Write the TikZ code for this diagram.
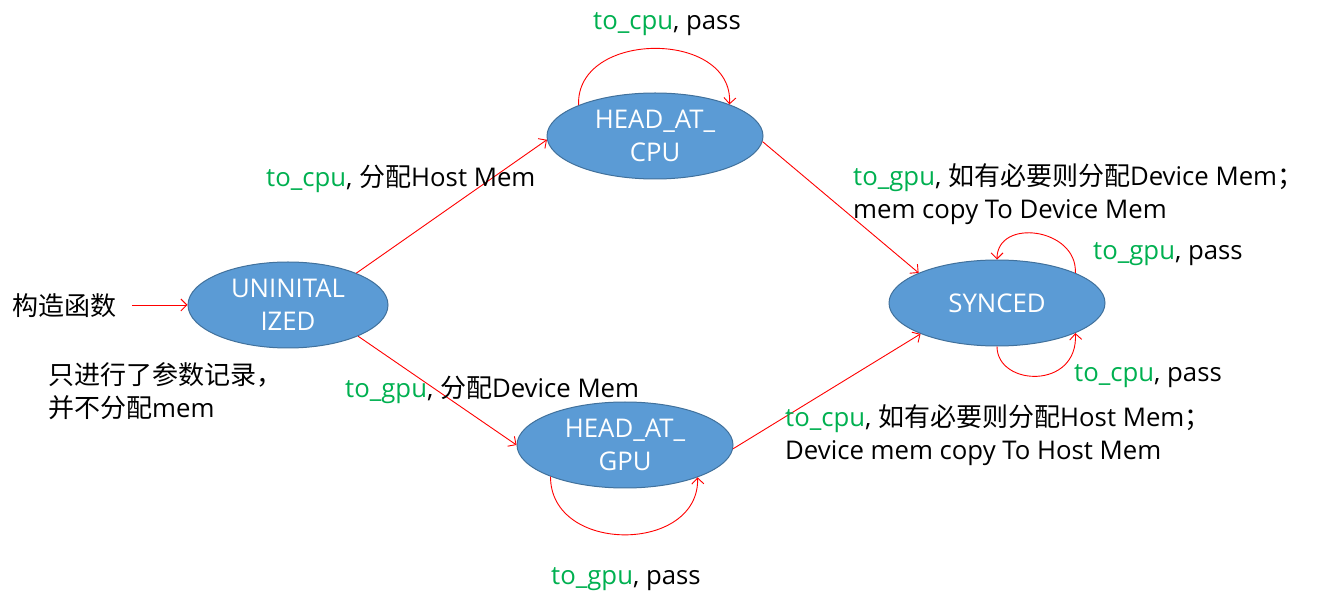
\documentclass[tikz,border=0pt]{standalone}
\usepackage{fontspec}
\setmainfont{Open Sans}[Scale=0.99]
\newfontfamily\cjk{Noto Sans CJK SC}
\usetikzlibrary{shapes.geometric,arrows.meta,calc}
\definecolor{tgreen}{HTML}{00B050}
\definecolor{sfill}{HTML}{5B9BD5}
\definecolor{sdraw}{HTML}{41719C}
\newcommand\zhtxt[1]{{\cjk #1}}
\newcommand\grn[1]{\textcolor{tgreen}{#1}}
\tikzset{
  state/.style={ellipse,fill=sfill,draw=sdraw,line width=1pt,text=white,
    minimum width=216pt,minimum height=86pt,inner sep=0pt,align=center,
    font=\fontsize{26}{33}\selectfont},
  lbl/.style={anchor=west,inner sep=0pt,align=left,text=black,
    font=\fontsize{26}{33}\selectfont},
  conn/.style={draw=red,line width=0.9pt,-{Straight Barb[length=6pt,width=12pt]}}
}
\begin{document}
\begin{tikzpicture}[x=1pt,y=1pt]
\useasboundingbox (0,0) rectangle (1328,600);
% states
\node[state,minimum width=200pt] (u) at (288,295) {UNINITAL\\IZED};
\node[state] (cpu) at (655,464) {HEAD\_AT\_\\CPU};
\node[state] (sync) at (997,297) {SYNCED};
\node[state] (gpu) at (625,155) {HEAD\_AT\_\\GPU};
% free end
\coordinate (ctor) at (132,295);
% connectors
\draw[conn] (ctor) -- (u.west);
\draw[conn] (u.25) -- (cpu.182);
\draw[conn] (cpu.-3) -- (sync.159);
\draw[conn] (u.-24) -- (gpu.180);
\draw[conn] (gpu.-2) -- (sync.202);
% loops
\draw[conn] (cpu.158) .. controls ($(cpu.158)+(-3,75)$) and ($(cpu.23)+(4,75)$) .. (cpu.23);
\draw[conn] (sync.21) .. controls ($(sync.21)+(2,45)$) and ($(sync.90)+(0,42)$) .. (sync.90);
\draw[conn] (sync.270) .. controls ($(sync.270)+(0,-40)$) and ($(sync.-21)+(3,-57)$) .. (sync.-21);
\draw[conn] (gpu.203) .. controls ($(gpu.203)+(0,-78)$) and ($(gpu.-24)+(2,-76)$) .. (gpu.-24);
% labels
\node[lbl,anchor=center] (l1) at (667,576) {\grn{to\_cpu}, pass};
\node[lbl] (l2) at (266,421) {\grn{to\_cpu}, \zhtxt{分配}Host Mem};
\node[lbl] (l3) at (853,406) {\grn{to\_gpu}, \zhtxt{如有必要则分配}Device Mem\zhtxt{；}\\mem copy To Device Mem};
\node[lbl] (l4) at (1093,346) {\grn{to\_gpu}, pass};
\node[lbl] (l5) at (12,294) {\zhtxt{构造函数}};
\node[lbl] (l6) at (48,209) {\zhtxt{只进行了参数记录，}\\\zhtxt{并不分配}mem};
\node[lbl] (l7) at (345,210) {\grn{to\_gpu}, \zhtxt{分配}Device Mem};
\node[lbl] (l8) at (1074,224) {\grn{to\_cpu}, pass};
\node[lbl] (l9) at (785,165) {\grn{to\_cpu}, \zhtxt{如有必要则分配}Host Mem\zhtxt{；}\\Device mem copy To Host Mem};
\node[lbl] (l10) at (551,21) {\grn{to\_gpu}, pass};
\end{tikzpicture}
\end{document}
